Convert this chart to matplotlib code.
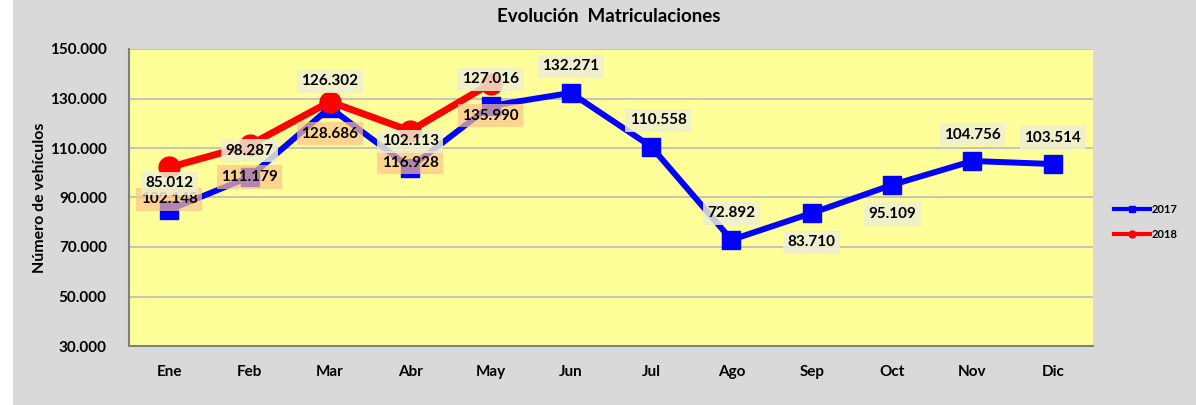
import matplotlib
matplotlib.use("Agg")
import matplotlib.pyplot as plt
from matplotlib.lines import Line2D
from matplotlib.patches import Rectangle

plt.rcParams['font.family'] = ['Lato', 'DejaVu Sans']
plt.rcParams['font.weight'] = 'bold'

months = ["Ene", "Feb", "Mar", "Abr", "May", "Jun", "Jul", "Ago", "Sep", "Oct", "Nov", "Dic"]
v2017 = [85012, 98287, 126302, 102113, 127016, 132271, 110558, 72892, 83710, 95109, 104756, 103514]
v2018 = [102148, 111179, 128686, 116928, 135990]
labels2017 = ["85.012", "98.287", "126.302", "102.113", "127.016", "132.271", "110.558",
              "72.892", "83.710", "95.109", "104.756", "103.514"]
labels2018 = ["102.148", "111.179", "128.686", "116.928", "135.990"]
yticks = [30000, 50000, 70000, 90000, 110000, 130000, 150000]
ytick_labels = ["30.000", "50.000", "70.000", "90.000", "110.000", "130.000", "150.000"]

W, H = 1196, 405
fig = plt.figure(figsize=(W / 100, H / 100), dpi=100, facecolor='#D9D9D9')
fig.patches.append(Rectangle((0, 0), 13 / W, 1, transform=fig.transFigure,
                             facecolor='white', edgecolor='none', zorder=0))

ax = fig.add_axes([129 / W, (H - 346) / H, (1093 - 129) / W, (346 - 49) / H])
ax.set_facecolor('#FFFF99')

x = list(range(len(months)))
x18 = list(range(len(v2018)))
ax.plot(x, v2017, color='#0000FF', lw=4.3, marker='s', ms=13, zorder=3, solid_joinstyle='miter')
ax.plot(x18, v2018, color='#FF0000', lw=5, marker='o', ms=15, zorder=4)

ax.set_xlim(-0.5, 11.5)
ax.set_ylim(30000, 150000)
ax.set_yticks(yticks)
ax.set_yticklabels(ytick_labels)
ax.set_xticks(x)
ax.set_xticklabels(months)
ax.tick_params(axis='both', length=0, labelsize=11)
ax.tick_params(axis='y', pad=16)
ax.tick_params(axis='x', pad=14)
for t in ax.get_xticklabels() + ax.get_yticklabels():
    t.set_fontweight('bold')
ax.grid(axis='y', color='#BFBFBF', lw=1.3)
ax.set_axisbelow(True)
for s in ['top', 'right']:
    ax.spines[s].set_visible(False)
for s in ['left', 'bottom']:
    ax.spines[s].set_color('#808080')
    ax.spines[s].set_linewidth(1.5)

# 2017 labels
below17 = {8, 9}
for i, (v, lab) in enumerate(zip(v2017, labels2017)):
    dy = -21 if i in below17 else 19
    dx = 5 if i == 6 else 0
    ax.annotate(lab, (i, v), xytext=(dx, dy), textcoords='offset points',
                ha='center', va='center', fontsize=11, fontweight='bold', zorder=6,
                bbox=dict(boxstyle='square,pad=0.3', facecolor='#EEEED2', edgecolor='none', alpha=0.85))
# 2018 labels
for i, (v, lab) in enumerate(zip(v2018, labels2018)):
    ax.annotate(lab, (i, v), xytext=(0, -23), textcoords='offset points',
                ha='center', va='center', fontsize=11, fontweight='bold', zorder=5,
                bbox=dict(boxstyle='square,pad=0.3', facecolor='#FFC28A', edgecolor='none', alpha=0.7))

fig.text(609 / W, 1 - 17 / H, "Evolución  Matriculaciones", ha='center', va='center',
         fontsize=13.5, fontweight='bold')
fig.text(40 / W, 1 - 198 / H, "Número de vehículos", ha='center', va='center',
         rotation=90, fontsize=11.5, fontweight='bold')

handles = [Line2D([], [], color='#0000FF', lw=3, marker='s', ms=5),
           Line2D([], [], color='#FF0000', lw=3, marker='o', ms=5)]
fig.legend(handles, ["2017", "2018"], loc='center left',
           bbox_to_anchor=(1104 / W, 1 - 222 / H), frameon=False,
           prop={'size': 8, 'weight': 'bold'}, handlelength=3.2, handletextpad=0.2,
           labelspacing=1.2)

fig.savefig("out.png", dpi=100, facecolor=fig.get_facecolor())
